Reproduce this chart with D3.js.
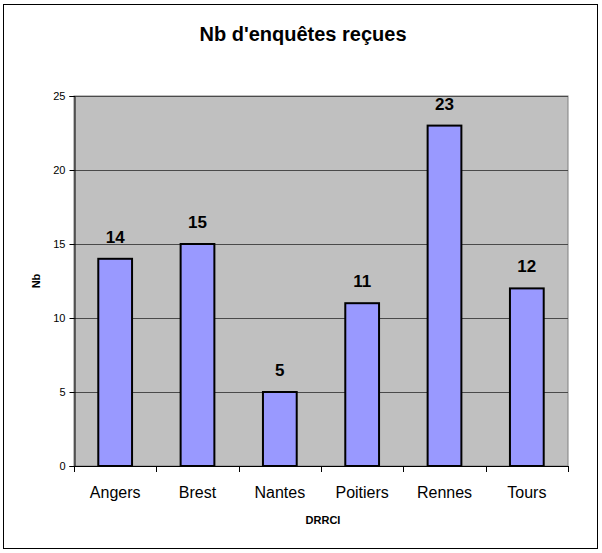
<!DOCTYPE html>
<html>
<head>
<meta charset="utf-8">
<script src="https://cdn.jsdelivr.net/npm/d3@7"></script>
<style>
  body { margin: 0; background: #fff; }
  text { font-family: "Liberation Sans", Arial, sans-serif; }
</style>
</head>
<body>
<div id="chart"></div>
<script>
const categories = ["Angers", "Brest", "Nantes", "Poitiers", "Rennes", "Tours"];
const counts = [14, 15, 5, 11, 23, 12];
const yTicks = [0, 5, 10, 15, 20, 25];

const width = 602, height = 553;
const plot = {left: 74, right: 568, top: 96, bottom: 466};

const svg = d3.select("#chart").append("svg")
    .attr("width", width)
    .attr("height", height);

// outer frame
svg.append("rect")
    .attr("x", 3.5).attr("y", 4.5)
    .attr("width", 594).attr("height", 544)
    .attr("fill", "#fff")
    .attr("stroke", "#000")
    .attr("stroke-width", 1);

const x = d3.scaleBand()
    .domain(categories)
    .range([plot.left, plot.right])
    .paddingInner(0.59)
    .paddingOuter(0.295);

const y = d3.scaleLinear()
    .domain([0, 25])
    .range([plot.bottom, plot.top]);

// plot background
svg.append("rect")
    .attr("x", plot.left).attr("y", plot.top)
    .attr("width", plot.right - plot.left)
    .attr("height", plot.bottom - plot.top)
    .attr("fill", "#c0c0c0")
    .attr("stroke", "#808080")
    .attr("stroke-width", 1);

// gridlines
svg.append("g")
    .selectAll("line")
    .data(yTicks.filter(d => d > 0))
    .enter()
    .append("line")
    .attr("x1", plot.left).attr("x2", plot.right)
    .attr("y1", d => Math.round(y(d)) + 0.5)
    .attr("y2", d => Math.round(y(d)) + 0.5)
    .attr("stroke", "#4a4a4a")
    .attr("stroke-width", 1);

// bars
svg.append("g")
    .selectAll("rect")
    .data(categories)
    .enter()
    .append("rect")
    .attr("x", d => x(d))
    .attr("y", (d, i) => y(counts[i]))
    .attr("width", x.bandwidth())
    .attr("height", (d, i) => y(0) - y(counts[i]))
    .attr("fill", "#9999ff")
    .attr("stroke", "#000")
    .attr("stroke-width", 2);

// value labels
svg.append("g")
    .selectAll("text")
    .data(categories)
    .enter()
    .append("text")
    .attr("x", d => x(d) + x.bandwidth() / 2)
    .attr("y", (d, i) => y(counts[i]) - 16)
    .attr("text-anchor", "middle")
    .attr("font-size", 17)
    .attr("font-weight", "bold")
    .text((d, i) => counts[i]);

// y axis
const yAxis = svg.append("g")
    .attr("transform", "translate(" + (plot.left + 0.5) + ",0)")
    .call(d3.axisLeft(y).tickValues(yTicks).tickSize(5).tickPadding(4));
yAxis.select(".domain").attr("stroke", "#000");
yAxis.selectAll(".tick line").attr("stroke", "#000");
yAxis.selectAll("text")
    .attr("font-family", "Liberation Sans, Arial, sans-serif")
    .attr("font-size", 11)
    .attr("fill", "#000");

// x axis: ticks between categories
const bounds = d3.range(categories.length + 1)
    .map(i => plot.left + i * (plot.right - plot.left) / categories.length);
const xAxisG = svg.append("g");
xAxisG.append("line")
    .attr("x1", plot.left).attr("x2", plot.right)
    .attr("y1", plot.bottom + 0.5).attr("y2", plot.bottom + 0.5)
    .attr("stroke", "#000");
xAxisG.selectAll("line.tk")
    .data(bounds)
    .enter()
    .append("line")
    .attr("class", "tk")
    .attr("x1", d => Math.round(d) + 0.5).attr("x2", d => Math.round(d) + 0.5)
    .attr("y1", plot.bottom).attr("y2", plot.bottom + 6)
    .attr("stroke", "#000");
xAxisG.selectAll("text")
    .data(categories)
    .enter()
    .append("text")
    .attr("x", d => x(d) + x.bandwidth() / 2)
    .attr("y", 498)
    .attr("text-anchor", "middle")
    .attr("font-size", 16)
    .text(d => d);

// titles
svg.append("text")
    .attr("x", 303).attr("y", 41)
    .attr("text-anchor", "middle")
    .attr("font-size", 20)
    .attr("font-weight", "bold")
    .text("Nb d'enquêtes reçues");

svg.append("text")
    .attr("x", 323).attr("y", 524)
    .attr("text-anchor", "middle")
    .attr("font-size", 11)
    .attr("font-weight", "bold")
    .text("DRRCI");

svg.append("text")
    .attr("transform", "translate(40,281) rotate(-90)")
    .attr("text-anchor", "middle")
    .attr("font-size", 11)
    .attr("font-weight", "bold")
    .text("Nb");
</script>
</body>
</html>
